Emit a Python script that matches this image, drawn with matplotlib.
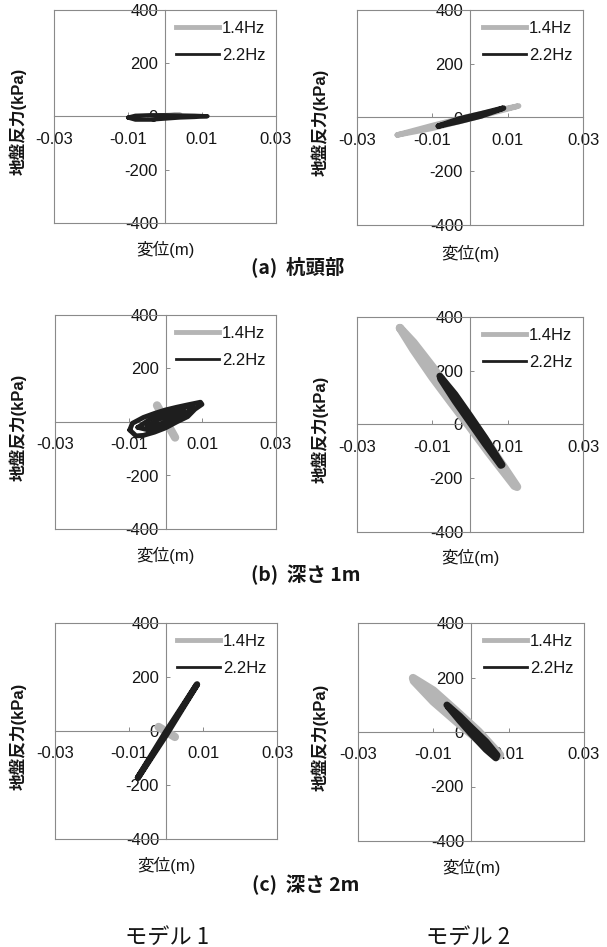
import matplotlib
matplotlib.use("Agg")
import matplotlib.pyplot as plt
from matplotlib.lines import Line2D

plt.rcParams['font.family'] = ['Liberation Sans', 'Noto Sans CJK JP', 'DejaVu Sans']
plt.rcParams['axes.unicode_minus'] = True

W, H = 607, 947

# ---- data (traced loops: displacement [m], soil reaction [kPa]) ----
a1_14_x = [-0.004, 0.0, 0.004, 0.0, -0.004]
a1_14_y = [-2, 3, 6, 1, -2]
a1_22_x = [-0.0100, -0.008, -0.004, 0.0, 0.004, 0.008, 0.0115, 0.008, 0.004, 0.0, -0.004, -0.008, -0.0100]
a1_22_y = [-4, 3, 5, 5, 4, 3, 1, -2, -4, -8, -12, -12, -4]

a2_14_x = [-0.0193, -0.010, 0.0, 0.0129, 0.0, -0.010, -0.0193]
a2_14_y = [-65, -30, 5, 43, -5, -40, -65]
a2_22_x = [-0.0084, -0.003, 0.003, 0.0089, 0.003, -0.003, -0.0084]
a2_22_y = [-32, -6, 14, 35, 6, -15, -32]

b1_14_x = [-0.0023, 0.0026]
b1_14_y = [62, -58]
b1_22_x = [-0.0097, -0.009, -0.006, -0.003, 0.0, 0.003, 0.006, 0.0095, 0.0099, 0.008, 0.006,
           0.003, 0.0, -0.003, -0.006, -0.008, -0.0097]
b1_22_y = [-30, -5, 17, 32, 45, 55, 64, 74, 66, 48, 20, 0, -22, -38, -50, -52, -30]
b1_22m_x = [-0.0075, -0.004, 0.0, 0.004, 0.0075, 0.0075, 0.004, 0.0, -0.004, -0.0075]
b1_22m_y = [-20, 12, 35, 50, 62, 50, 20, -10, -32, -20]
b1_22i_x = [-0.005, -0.002, 0.002, 0.005, 0.005, 0.002, -0.002, -0.005, -0.005]
b1_22i_y = [-15, 10, 28, 42, 30, 10, -10, -22, -15]

b2_14_x = [-0.0186, -0.015, -0.010, -0.005, 0.0, 0.005, 0.0125, 0.0118, 0.005, 0.0, -0.005, -0.010, -0.015, -0.0186]
b2_14_y = [359, 305, 215, 118, 20, -75, -232, -228, -105, -10, 82, 176, 278, 359]
b2_22_x = [-0.008, -0.004, 0.0, 0.004, 0.0085, 0.0082, 0.004, 0.0, -0.004, -0.0078]
b2_22_y = [180, 112, 32, -50, -150, -152, -72, 8, 88, 170]

c1_14_x = [-0.002, 0.0024]
c1_14_y = [15, -22]
c1_22_x = [-0.0076, 0.0, 0.0084, 0.0, -0.0076]
c1_22_y = [-173, -14, 173, -4, -173]

c2_14_x = [-0.0154, -0.010, -0.004, 0.002, 0.0077, 0.0072, 0.002, -0.004, -0.010, -0.0152]
c2_14_y = [198, 152, 78, 2, -84, -88, -30, 40, 112, 188]
c2_22_x = [-0.0064, -0.003, 0.0, 0.004, 0.0069, 0.0066, 0.004, 0.0, -0.003, -0.006]
c2_22_y = [99, 58, 17, -36, -85, -95, -64, -5, 42, 92]

x_ticks = [-0.03, -0.01, 0.01, 0.03]
x_ticklabels = ["-0.03", "-0.01", "0.01", "0.03"]
y_ticks = [-400, -200, 0, 200, 400]
series_labels = ["1.4Hz", "2.2Hz"]
captions = ["(a)  杭頭部", "(b)  深さ 1m", "(c)  深さ 2m"]
models = ["モデル 1", "モデル 2"]

GRAY = '#b5b5b5'
BLACK = '#1e1e1e'
EDGE = '#8a8a8a'
TXT = '#151515'

fig = plt.figure(figsize=(W / 100, H / 100), dpi=100)

# panel boxes in pixels: (left, top, right, bottom)
boxes = [
    [(54, 10, 276, 223), (357, 10, 583, 225)],
    [(55, 315, 276, 529), (357, 317, 583, 532)],
    [(55, 623, 277, 839), (358, 623, 584, 841)],
]
grays = [
    [[(a1_14_x, a1_14_y, 4)], [(a2_14_x, a2_14_y, 4)]],
    [[(b1_14_x, b1_14_y, 6)], [(b2_14_x, b2_14_y, 6)]],
    [[(c1_14_x, c1_14_y, 6)], [(c2_14_x, c2_14_y, 6)]],
]
blacks = [
    [[(a1_22_x, a1_22_y, 3)], [(a2_22_x, a2_22_y, 4)]],
    [[(b1_22_x, b1_22_y, 3.5), (b1_22m_x, b1_22m_y, 3.5), (b1_22i_x, b1_22i_y, 3.5)],
     [(b2_22_x, b2_22_y, 5)]],
    [[(c1_22_x, c1_22_y, 4.5)], [(c2_22_x, c2_22_y, 5)]],
]
xlabel_y = [[249, 253], [555, 557], [865, 867]]
caption_y = [267, 575, 885]
caption_x = [298, 306, 306]


def px(l, t, r, b):
    return [l / W, (H - b) / H, (r - l) / W, (b - t) / H]


for ri in range(3):
    for ci in range(2):
        l, t, r, b = boxes[ri][ci]
        ax = fig.add_axes(px(l, t, r, b))
        ax.set_xlim(-0.03, 0.03)
        ax.set_ylim(-400, 400)
        for gx, gy, lw in grays[ri][ci]:
            ax.plot(gx, gy, color=GRAY, lw=lw, solid_capstyle='round', solid_joinstyle='round', zorder=3)
        for bx, by, lw in blacks[ri][ci]:
            ax.plot(bx, by, color=BLACK, lw=lw, solid_capstyle='round', solid_joinstyle='round', zorder=4)
        ax.spines['left'].set_position('zero')
        ax.spines['bottom'].set_position('zero')
        for s in ['left', 'bottom', 'top', 'right']:
            ax.spines[s].set_color(EDGE)
            ax.spines[s].set_linewidth(0.8)
        ax.plot([0, 0], [0, 1], transform=ax.transAxes, color=EDGE, lw=0.8, clip_on=False)
        ax.plot([0, 1], [0, 0], transform=ax.transAxes, color=EDGE, lw=0.8, clip_on=False)
        ax.set_xticks(x_ticks)
        ax.set_xticklabels(x_ticklabels)
        ax.set_yticks(y_ticks)
        ax.set_yticklabels([str(v) for v in y_ticks])
        ax.tick_params(axis='x', direction='in', length=3, width=0.7, color=EDGE,
                       labelsize=12, pad=11, labelcolor=TXT)
        ax.tick_params(axis='y', direction='in', length=3, width=0.7, color=EDGE,
                       labelsize=12, pad=5, labelcolor=TXT)
        handles = [Line2D([0], [0], color=GRAY, lw=3.5),
                   Line2D([0], [0], color=BLACK, lw=2)]
        leg = ax.legend(handles, series_labels, loc='upper right', frameon=False,
                        fontsize=12, handlelength=2.6, handletextpad=0.15,
                        labelspacing=0.75, borderaxespad=0.25)
        for tx in leg.get_texts():
            tx.set_color(TXT)
        cx = (l + r) / 2
        fig.text(cx / W, 1 - xlabel_y[ri][ci] / H, "変位(m)", ha='center', va='center',
                 fontsize=12, color=TXT)
        ylx = 18 if ci == 0 else 320
        fig.text(ylx / W, 1 - ((t + b) / 2 + 5) / H, "地盤反力(kPa)", ha='center', va='center',
                 rotation=90, fontsize=12, fontweight='bold', color=TXT)
    fig.text(caption_x[ri] / W, 1 - caption_y[ri] / H, captions[ri], ha='center', va='center',
             fontsize=14, fontweight='bold', color=TXT,
             family=['Noto Sans CJK JP', 'DejaVu Sans'])

fig.text(167 / W, 1 - 937 / H, models[0], ha='center', va='center', fontsize=16, color=TXT,
         family=['Noto Sans CJK JP', 'DejaVu Sans'])
fig.text(468 / W, 1 - 937 / H, models[1], ha='center', va='center', fontsize=16, color=TXT,
         family=['Noto Sans CJK JP', 'DejaVu Sans'])

fig.savefig("out.png", dpi=100, facecolor='white')
